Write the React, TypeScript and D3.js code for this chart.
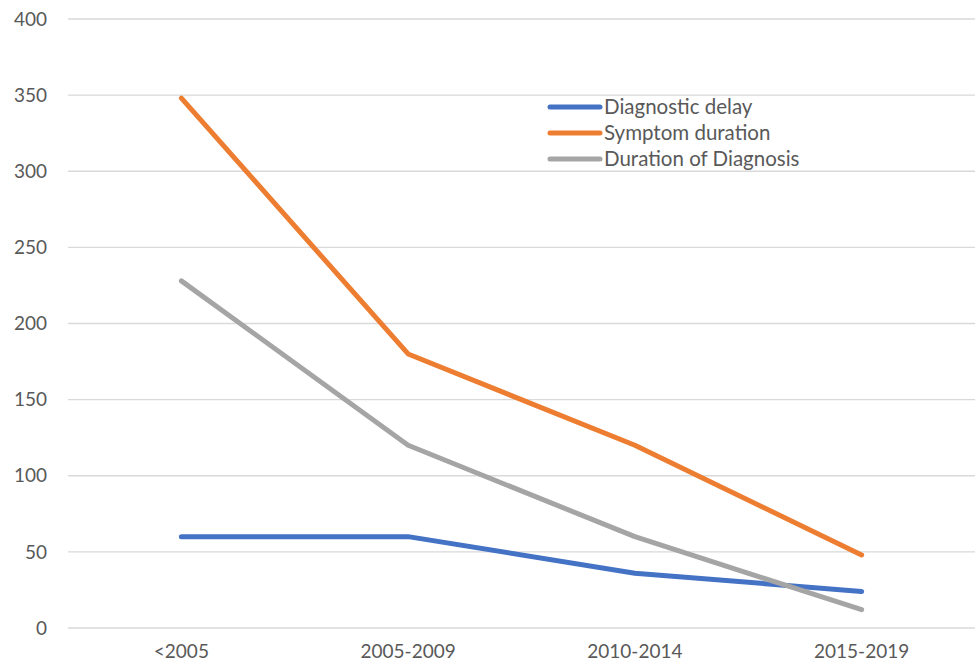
import React from "react";
import * as d3 from "d3";

const categories = ["<2005", "2005-2009", "2010-2014", "2015-2019"];
const diagnosticDelay = [60, 60, 36, 24];
const symptomDuration = [348, 180, 120, 48];
const durationOfDiagnosis = [228, 120, 60, 12];
const yTicks = [0, 50, 100, 150, 200, 250, 300, 350, 400];

const seriesNames = ["Diagnostic delay", "Symptom duration", "Duration of Diagnosis"];
const seriesValues = [diagnosticDelay, symptomDuration, durationOfDiagnosis];
const colors = ["#4472C4", "#ED7D31", "#A5A5A5"];

export default function App() {
  const W = 975, H = 669;
  const left = 68, right = 975, top = 19, bottom = 628;
  const x = d3.scaleBand<string>().domain(categories).range([left, right]);
  const y = d3.scaleLinear().domain([0, 400]).range([bottom, top]);
  const line = d3
    .line<number>()
    .x((_, i) => (x(categories[i]) as number) + x.bandwidth() / 2)
    .y((d) => y(d));
  const font = "Lato, 'Open Sans', sans-serif";
  return (
    <svg width={W} height={H} style={{ position: "absolute", left: 0, top: 0, background: "#fff" }}>
      {yTicks.map((t) => (
        <g key={t}>
          <line x1={left} x2={right} y1={y(t)} y2={y(t)} stroke="#D9D9D9" strokeWidth={1.3} />
          <text x={47} y={y(t)} dy="0.35em" textAnchor="end" fontFamily={font} fontSize={19} fill="#595959">
            {t}
          </text>
        </g>
      ))}
      {categories.map((c) => (
        <text key={c} x={(x(c) as number) + x.bandwidth() / 2} y={658} textAnchor="middle" fontFamily={font} fontSize={19} fill="#595959">
          {c}
        </text>
      ))}
      {seriesValues.map((vals, i) => (
        <path key={i} d={line(vals) || ""} fill="none" stroke={colors[i]} strokeWidth={5} strokeLinecap="round" strokeLinejoin="round" />
      ))}
      {seriesNames.map((n, i) => (
        <g key={n} transform={`translate(0, ${107 + i * 26})`}>
          <line x1={550} x2={600} y1={0} y2={0} stroke={colors[i]} strokeWidth={5} strokeLinecap="round" />
          <text x={604} y={0} dy="0.35em" fontFamily={font} fontSize={20.5} fill="#595959">
            {n}
          </text>
        </g>
      ))}
    </svg>
  );
}
